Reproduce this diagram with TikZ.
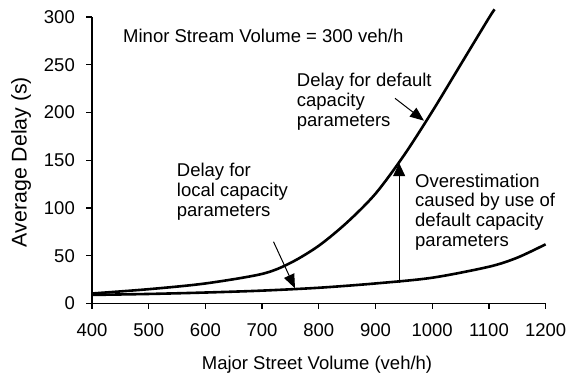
\documentclass[tikz,border=0pt]{standalone}
\usepackage{fontspec}
\setmainfont{Liberation Sans}
\usetikzlibrary{arrows.meta}
\begin{document}
\begin{tikzpicture}[x=1pt,y=-1pt,
  lbl/.style={font=\fontsize{18.5}{19.8}\selectfont, inner sep=0pt, align=left, anchor=base west},
  ticklbl/.style={font=\fontsize{18.5}{20}\selectfont, inner sep=0pt},
  curve/.style={line width=2.6pt, line join=round},
  axisline/.style={line width=1.3pt},
  ptr/.style={line width=1pt, -{Triangle[length=14pt,width=11pt]}},
  bigptr/.style={line width=1pt, -{Triangle[length=13pt,width=12pt]}}]
\useasboundingbox (0,0) rectangle (569,376);
\fill[white] (0,0) rectangle (569,376);
% data scope: x = V-400, y = delay
\begin{scope}[shift={(92,303.5)}, x=0.567pt, y=0.955pt]
  \draw[curve] plot[smooth, tension=0.5] coordinates {(0,10.5) (100,15) (200,21) (300,31) (350,42.5) (400,60.5) (450,85) (500,115) (550,155) (600,201) (650,250) (700,299) (710,308)};
  \draw[curve] plot[smooth, tension=0.5] coordinates {(0,9) (100,10) (200,11.5) (300,13.5) (400,16.5) (500,21) (600,27) (700,38.5) (750,48) (800,62)};
  \draw[axisline] (0,300) -- (0,0) -- (800,0);
  \foreach \d in {0,50,...,300} {
    \draw[axisline] ([xshift=-6pt]0,\d) -- (0,\d);
    \node[ticklbl, anchor=east] (yl\d) at ([xshift=-17pt]0,\d) {\d};
  }
  \foreach \v [evaluate=\v as \lab using int(\v+400)] in {0,100,...,800} {
    \draw[axisline] (\v,0) -- ([yshift=-5pt]\v,0);
    \node[ticklbl, anchor=base] (xl\v) at ([yshift=-33.2pt]\v,0) {\lab};
  }
  \coordinate (ovlow) at (541.7,22);
  \coordinate (ovhigh) at (541.7,147);
\end{scope}
\draw[bigptr] (ovlow) -- (ovhigh);
\coordinate (deftail) at (395,98.3);
\coordinate (deftip) at (424,120.7);
\coordinate (loctail) at (273.5,241.7);
\coordinate (loctip) at (295,288.3);
\draw[ptr] (deftail) -- (deftip);
\draw[ptr] (loctail) -- (loctip);
\node[lbl] (minor) at (123,42) {Minor Stream Volume = 300 veh/h};
\node[lbl] (deflbl) at (296.7,126.3) {Delay for default\\capacity\\parameters};
\node[lbl] (loclbl) at (176.7,216.5) {Delay for\\local capacity\\parameters};
\node[lbl] (overlbl) at (415,246.4) {Overestimation\\caused by use of\\default capacity\\parameters};
\node[font=\fontsize{18.5}{20}\selectfont, inner sep=0pt, anchor=base] (xtitle) at (317,369) {Major Street Volume (veh/h)};
\node[font=\fontsize{21.3}{23}\selectfont, inner sep=0pt, anchor=base, rotate=90] (ytitle) at (26.7,162) {Average Delay (s)};
\end{tikzpicture}
\end{document}
